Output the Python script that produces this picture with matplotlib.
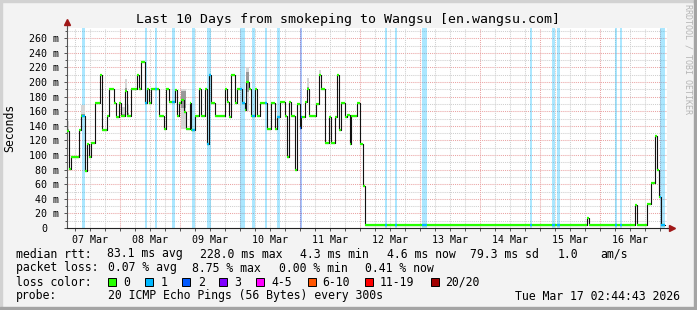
import numpy as np
import matplotlib as mpl; mpl.use('Agg')
import matplotlib.pyplot as plt
from matplotlib.patches import Rectangle
from matplotlib.transforms import ScaledTranslation

mpl.rcParams['font.family'] = ['DejaVu Sans Mono']

# ---- data (time in hours since 07 Mar 00:00) ----
START_H, END_H = 2.745, 242.745
STEP_H = [2.75, 3.73, 4.53, 7.73, 8.53, 9.87, 10.67, 11.73, 12.53, 13.87, 16.0, 16.8, 18.67, 19.73,
          21.6, 22.4, 23.73, 24.53, 25.87, 26.67, 28.53, 30.67, 31.47, 32.53, 33.87, 34.67, 35.73,
          36.53, 39.73, 41.6, 42.4, 43.73, 45.87, 46.67, 47.73, 48.53, 49.6, 50.4, 52.0, 52.53,
          53.87, 55.73, 56.53, 57.87, 58.67, 59.73, 60.53, 61.87, 65.87, 66.93, 67.73, 68.53,
          69.87, 70.67, 72.8, 73.87, 74.4, 75.73, 76.53, 77.87, 78.67, 80.0, 82.67, 84.3, 85.87,
          86.67, 88.0, 89.87, 90.67, 91.73, 92.53, 93.87, 94.67, 96.0, 96.53, 97.87, 98.67, 99.73,
          102.4, 103.73, 104.53, 105.87, 107.73, 108.53, 109.87, 110.67, 111.73, 112.53, 113.87,
          114.67, 116.0, 116.53, 118.67, 120.0, 121.07, 121.87, 210.7, 211.7, 230.0, 230.7,
          234.7, 236.5, 237.9, 238.7, 239.7, 240.5]
STEP_V = [133.4, 81.3, 97.8, 134.8, 153.5, 78.6, 115.1, 97.8, 117.0, 171.8, 209.7, 134.8, 153.5, 190.5,
          171.8, 152.6, 171.8, 153.5, 188.2, 154.0, 190.5, 209.7, 190.5, 228.0, 171.8, 190.5, 171.8,
          190.5, 153.0, 136.1, 190.5, 172.3, 189.0, 153.5, 171.8, 175.9, 159.0, 136.1, 171.8, 134.8,
          153.5, 190.5, 153.5, 190.5, 115.1, 209.7, 171.8, 153.5, 190.5, 172.5, 152.6, 209.7,
          171.8, 191.0, 171.8, 161.7, 200.1, 190.5, 153.5, 190.5, 153.5, 171.8, 136.1, 171.8, 136.1,
          152.6, 172.5, 153.5, 97.8, 172.5, 153.5, 79.5, 170.0, 136.8, 152.6, 172.5, 190.5, 153.5,
          170.0, 209.7, 190.5, 117.0, 152.6, 117.0, 152.6, 209.7, 134.8, 171.8, 152.6,
          155.0, 115.1, 153.5, 171.8, 115.1, 58.0, 4.6, 13.7, 4.6, 32.0, 4.6,
          32.9, 62.1, 125.6, 79.5, 42.9, 4.6]
DATA_END_H = 241.9

LOSS_START = [8.8, 34.1, 38.0, 44.8, 52.8, 58.9, 72.0, 76.8, 82.1, 86.8, 96.0, 130.0, 134.0,
              144.8, 188.0, 196.8, 198.8, 222.0, 224.0, 239.9]
LOSS_END = [10.0, 34.9, 38.9, 46.0, 53.9, 60.5, 73.9, 77.9, 82.8, 88.0, 96.8, 130.8, 134.7,
            146.9, 188.8, 198.0, 200.0, 222.8, 224.8, 242.0]
LOSS_N = [1, 1, 1, 1, 1, 1, 1, 1, 1, 1, 2, 1, 1, 1, 1, 1, 1, 1, 1, 1]

SMOKE_H0 = [2.75, 8.53, 24.9, 25.87, 26.67, 48.53, 74.4, 98.67, 103.73]
SMOKE_H1 = [3.73, 9.87, 25.87, 26.67, 27.7, 50.4, 75.73, 99.73, 104.53]
SMOKE_LO = [133, 153, 152, 188, 154, 136, 160, 190, 209]
SMOKE_HI = [146, 168, 166, 204, 170, 190, 221, 205, 216]

LOSS_LABELS = ['0', '1', '2', '3', '4-5', '6-10', '11-19', '20/20']
LOSS_COLORS = ['#26ff00', '#00b8ff', '#0059ff', '#7e00ff', '#ff00ff', '#ff5500', '#ff0000', '#a10000']
DAY_LABELS = ['07 Mar', '08 Mar', '09 Mar', '10 Mar', '11 Mar', '12 Mar', '13 Mar', '14 Mar', '15 Mar', '16 Mar']
Y_MAJOR = list(range(0, 261, 20))

RTT_STATS = ['83.1 ms avg', '228.0 ms max', '4.3 ms min', '4.6 ms now', '79.3 ms sd', '1.0', 'am/s']
LOSS_STATS = ['0.07 % avg', '8.75 % max', '0.00 % min', '0.41 % now']
PROBE = '20 ICMP Echo Pings (56 Bytes) every 300s'
STAMP = 'Tue Mar 17 02:44:43 2026'
TITLE = 'Last 10 Days from smokeping to Wangsu [en.wangsu.com]'

W, H = 697, 310
def fx(p): return p / W
def fy(p): return 1 - p / H

fig = plt.figure(figsize=(W / 100, H / 100), dpi=100)
fig.patch.set_facecolor('#f3f3f3')
# 3d frame
fig.patches.append(Rectangle((0, fy(2)), 1, 2 / H, transform=fig.transFigure, color='#d2d2d2', zorder=0))
fig.patches.append(Rectangle((0, 0), 2 / W, 1, transform=fig.transFigure, color='#d2d2d2', zorder=0))
fig.patches.append(Rectangle((0, 0), 1, 3 / H, transform=fig.transFigure, color='#a4a4a4', zorder=0))
fig.patches.append(Rectangle((fx(694), 0), 3 / W, 1, transform=fig.transFigure, color='#a4a4a4', zorder=0))

ax = fig.add_axes([fx(67), fy(228), 600 / W, 200 / H])
ax.set_facecolor('white')
ax.set_xlim(START_H, END_H); ax.set_ylim(0, 274)

# grid
for v in range(10, 271, 10):
    ax.axhline(v, color='#eaa4a4' if v % 20 == 0 else '#cfcfcf', lw=0.75, ls=(0, (1, 1)), zorder=0.5)
for h in range(6, 243, 6):
    ax.axvline(h, color='#eaa4a4' if h % 24 == 0 else '#cfcfcf', lw=0.75, ls=(0, (1, 1)), zorder=0.5)

# loss bars
for h0, h1, n in zip(LOSS_START, LOSS_END, LOSS_N):
    ax.axvspan(h0, h1, color=LOSS_COLORS[n], alpha=0.33, lw=0, zorder=1)

hours = np.array(STEP_H); vals = np.array(STEP_V)
ends = np.append(hours[1:], DATA_END_H)

def med_at(t):
    return vals[max(np.searchsorted(hours, t, side='right') - 1, 0)]

# smoke
for h0, h1, lo, hi in zip(SMOKE_H0, SMOKE_H1, SMOKE_LO, SMOKE_HI):
    ax.fill_between([h0, h1], lo, hi, color='0.84', lw=0, zorder=2)
    m = med_at((h0 + h1) / 2); d = (hi - lo) * 0.22
    ax.fill_between([h0, h1], max(lo, m - d), min(hi, m + d), color='0.6', lw=0, zorder=2)

# median line
ax.step(np.append(hours, DATA_END_H), np.append(vals, vals[-1]), where='post', color='#111111', lw=0.8, zorder=3)
ax.hlines(vals, hours, ends, color=LOSS_COLORS[0], lw=1.6, zorder=4)
for h0, h1, n in zip(LOSS_START, LOSS_END, LOSS_N):
    for s, e, v in zip(hours, ends, vals):
        a, b = max(s, h0), min(e, h1)
        if b > a:
            ax.hlines(v, a, b, color=LOSS_COLORS[n], lw=1.6, zorder=4)

# axes
for s in ['top', 'right']:
    ax.spines[s].set_visible(False)
ax.spines['left'].set_color('#555555'); ax.spines['bottom'].set_color('#222222')
ax.spines['left'].set_linewidth(0.8); ax.spines['bottom'].set_linewidth(0.8)
ax.plot([0, 0], [1, 1.03], transform=ax.transAxes, clip_on=False, color='#555555', lw=0.8)
ax.plot([0], [1.03], marker='^', ms=4.5, color='#a01818', transform=ax.transAxes, clip_on=False, mec='#a01818')
ax.plot([1, 1.007], [0, 0], transform=ax.transAxes, clip_on=False, color='#222222', lw=0.8)
ax.plot([1.008], [0], marker='>', ms=4.5, color='#a01818', transform=ax.transAxes, clip_on=False, mec='#a01818')

ax.set_yticks(Y_MAJOR)
ax.set_yticklabels([('%d m' % v) if v else '0' for v in Y_MAJOR])
ax.set_yticks(range(10, 271, 20), minor=True)
ax.tick_params(axis='y', which='major', length=2.5, width=0.7, pad=3, labelsize=7.2, color='#555555')
ax.tick_params(axis='y', which='minor', length=1.5, width=0.7, color='#555555')
# the unitless zero sits two character cells further left, as rrdtool prints it
zl = ax.get_yticklabels()[0]
zl.set_transform(zl.get_transform() + ScaledTranslation(-0.12, 0, fig.dpi_scale_trans))
xt = list(range(6, 241, 6))
ax.set_xticks(xt)
ax.set_xticklabels([DAY_LABELS[(h - 12) // 24] if h % 24 == 12 else '' for h in xt])
ax.tick_params(axis='x', length=2, width=0.7, pad=3, labelsize=7.2, color='#555555')

fig.text(0.5, fy(19), TITLE, ha='center', va='center', fontsize=9.5)
fig.text(fx(10), fy(128), 'Seconds', rotation=90, ha='center', va='center', fontsize=8.3)
fig.text(fx(688), fy(4), 'RRDTOOL / TOBI OETIKER', rotation=270, ha='center', va='top', fontsize=6, color='#b5b5b5')

# legend
LF = 8.3
fig.text(fx(16), fy(254), 'median rtt:', va='center', fontsize=LF)
for t, x in zip(RTT_STATS, [107, 200, 300, 387, 470, 558, 600]):
    fig.text(fx(x), fy(254), t, va='center', fontsize=LF)
fig.text(fx(16), fy(268), 'packet loss:', va='center', fontsize=LF)
for t, x in zip(LOSS_STATS, [108, 192, 279, 365]):
    fig.text(fx(x), fy(268), t, va='center', fontsize=LF)
fig.text(fx(16), fy(282), 'loss color:', va='center', fontsize=LF)
for lab, c, bx, tx in zip(LOSS_LABELS, LOSS_COLORS, [108, 145, 182, 219, 256, 307.5, 365, 431],
                          [123.5, 161, 198, 234, 271, 322, 380, 445]):
    fig.patches.append(Rectangle((fx(bx), fy(286)), 8 / W, 8 / H, transform=fig.transFigure,
                                 fc=c, ec='black', lw=0.7))
    fig.text(fx(tx), fy(282), lab, va='center', fontsize=LF)
fig.text(fx(16), fy(296), 'probe:', va='center', fontsize=LF)
fig.text(fx(108), fy(296), PROBE, va='center', fontsize=LF)
fig.text(fx(680), fy(296), STAMP, va='center', ha='right', fontsize=LF)

fig.savefig('out.png', dpi=100, facecolor=fig.get_facecolor())
